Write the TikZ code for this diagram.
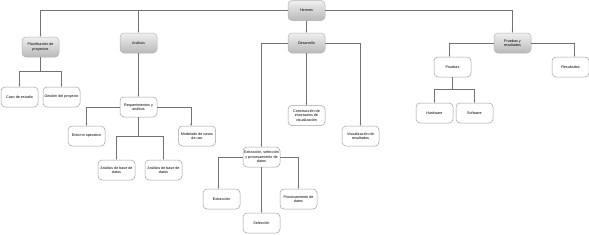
\documentclass[tikz,border=0pt]{standalone}
\usepackage{fontspec}
\setmainfont{Liberation Sans}
\usetikzlibrary{arrows.meta,calc}
\begin{document}
\begin{tikzpicture}[x=1pt,y=-1pt,
  base/.style={rounded corners=4pt, minimum width=37pt, minimum height=20pt,
    inner sep=1pt, align=center,
    font=\fontsize{3.7}{4.4}\selectfont, draw=gray!75, line width=0.5pt},
  parent/.style={base, top color=gray!12, bottom color=gray!55, draw=gray!60},
  leaf/.style={base, fill=white},
  arr/.style={draw=black!55, line width=0.5pt, -{Stealth[length=2pt,width=1.6pt]}}]
\useasboundingbox (0,0) rectangle (589,234);
\fill[white] (0,0) rectangle (589,234);

\node[parent] (root) at (306.5,10.5) {Hermes};
\node[parent] (plan) at (40.5,47) {Planificación de\\proyectos};
\node[parent] (anal) at (138.5,43) {Análisis};
\node[parent] (des) at (306.5,43) {Desarrollo};
\node[parent] (prue) at (512.5,43) {Pruebas y\\resultados};

\node[leaf] (caso) at (19.5,97) {Caso de estudio};
\node[leaf] (gest) at (61.5,97) {Gestión del proyecto};

\node[leaf] (req) at (138.5,107) {Requerimientos y\\análisis};
\node[leaf] (ent) at (86.5,136) {Entorno operativo};
\node[leaf] (mod) at (197,136) {Modelado de casos\\de uso};
\node[leaf] (bda) at (116.5,170) {Análisis de base de\\datos};
\node[leaf] (bdb) at (163.5,170) {Análisis de base de\\datos};

\node[leaf] (cons) at (306.5,115.5) {Construcción de\\escenarios de\\visualización};
\node[leaf] (vis) at (360.5,136) {Visualización de\\resultados};
\node[leaf] (ext) at (261.5,157) {Extracción, selección\\y procesamiento de\\datos};
\node[leaf] (extr) at (221.5,199) {Extracción};
\node[leaf] (proc) at (298.5,199) {Procesamiento de\\datos};
\node[leaf] (sel) at (261.5,223) {Selección};

\node[leaf] (pru) at (452.5,67) {Pruebas};
\node[leaf] (res) at (570.5,67) {Resultados};
\node[leaf] (hw) at (434.5,113) {Hardware};
\node[leaf] (sw) at (474.5,113) {Software};

% root connectors
\draw[arr] (root.west) -| (plan.north);
\draw[arr] (root.west) -| (anal.north);
\draw[arr] (root.south) -- (des.north);
\draw[arr] (root.east) -| (prue.north);

% planificacion
\draw[arr] (plan.south) -- ++(0,14) -| (caso.north);
\draw[arr] (plan.south) -- ++(0,14) -| (gest.north);

% analisis
\draw[arr] (anal.south) -- (req.north);
\draw[arr] (req.west) -| (ent.north);
\draw[arr] (req.east) -| ($(mod.north)+(-6,0)$);
\draw[arr] (req.south) -- ++(0,19) -| (bda.north);
\draw[arr] (req.south) -- ++(0,19) -| (bdb.north);

% desarrollo
\draw[arr] (des.south) -- (cons.north);
\draw[arr] (des.west) -| (ext.north);
\draw[arr] (des.east) -| (vis.north);
\draw[arr] (ext.west) -| ($(extr.north)+(-3,0)$);
\draw[arr] (ext.east) -| (proc.north);
\draw[arr] (ext.south) -- (sel.north);

% pruebas
\draw[arr] (prue.west) -| ($(pru.north)+(-3,0)$);
\draw[arr] (prue.east) -| ($(res.north)+(4,0)$);
\draw[arr] (pru.south) -- ++(0,12) -| (hw.north);
\draw[arr] (pru.south) -- ++(0,12) -| (sw.north);
\end{tikzpicture}
\end{document}
